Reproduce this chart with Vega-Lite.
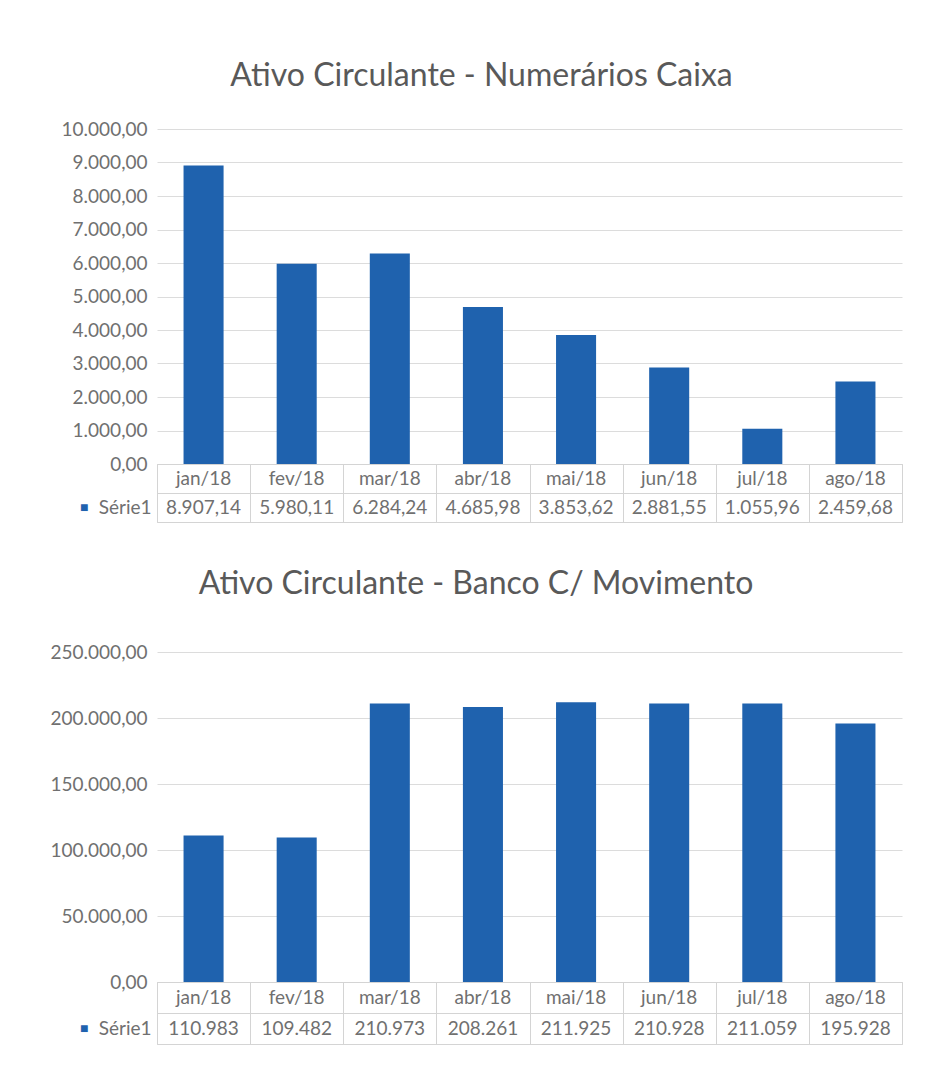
{
  "$schema": "https://vega.github.io/schema/vega-lite/v6.json",
  "background": "white",
  "padding": {"left": 50, "top": 60, "right": 30, "bottom": 5},
  "config": {
    "locale": {"number": {"decimal": ",", "thousands": ".", "grouping": [3], "currency": ["R$ ", ""]}},
    "font": "Lato",
    "axis": {"labelFont": "Lato", "labelFontSize": 19, "labelColor": "#707070"},
    "title": {"font": "Lato", "fontSize": 32, "fontWeight": "normal", "color": "#595959", "anchor": "middle", "frame": "bounds"}
  },
  "datasets": {
    "caixa": [
      {"mes": "jan/18", "valor": 8907.14},
      {"mes": "fev/18", "valor": 5980.11},
      {"mes": "mar/18", "valor": 6284.24},
      {"mes": "abr/18", "valor": 4685.98},
      {"mes": "mai/18", "valor": 3853.62},
      {"mes": "jun/18", "valor": 2881.55},
      {"mes": "jul/18", "valor": 1055.96},
      {"mes": "ago/18", "valor": 2459.68}
    ],
    "banco": [
      {"mes": "jan/18", "valor": 110983},
      {"mes": "fev/18", "valor": 109482},
      {"mes": "mar/18", "valor": 210973},
      {"mes": "abr/18", "valor": 208261},
      {"mes": "mai/18", "valor": 211925},
      {"mes": "jun/18", "valor": 210928},
      {"mes": "jul/18", "valor": 211059},
      {"mes": "ago/18", "valor": 195928}
    ]
  },
  "spacing": 45,
  "vconcat": [
    {
      "spacing": 0,
      "bounds": "flush",
      "vconcat": [
        {
          "title": {"text": "Ativo Circulante - Numerários Caixa", "offset": 27},
          "data": {"name": "caixa"},
          "width": 745,
          "height": 335,
          "view": {"stroke": null},
          "mark": {"type": "bar", "color": "#1f62ae"},
          "encoding": {
            "x": {"field": "mes", "type": "ordinal", "sort": null, "scale": {"paddingInner": 0.57, "paddingOuter": 0.285}, "axis": null},
            "y": {"field": "valor", "type": "quantitative", "scale": {"domain": [0, 10000]},
              "axis": {"title": null, "values": [0,1000,2000,3000,4000,5000,6000,7000,8000,9000,10000], "format": ",.2f", "domain": false, "ticks": false, "labelPadding": 10, "gridColor": "#dcdcdc"}}
          }
        },
        {
          "data": {"name": "caixa"},
          "width": 745,
          "height": 58,
          "view": {"stroke": "#d4d4d4"},
          "encoding": {
            "x": {"field": "mes", "type": "ordinal", "sort": null, "scale": {"paddingInner": 0, "paddingOuter": 0},
              "axis": {"title": null, "labels": false, "ticks": false, "domain": false, "grid": true, "tickBand": "extent", "gridColor": "#d4d4d4"}}
          },
          "resolve": {"axis": {"y": "independent"}},
          "layer": [
            {
              "mark": {"type": "text", "fontSize": 19, "color": "#707070", "font": "Lato"},
              "encoding": {
                "y": {"datum": "mes", "type": "nominal", "scale": {"type": "band", "domain": ["mes", "val"], "paddingInner": 0, "paddingOuter": 0},
                  "axis": {"title": null, "orient": "left", "labelExpr": "datum.value == 'val' ? 'Série1' : ''", "ticks": false, "domain": false, "grid": true, "tickBand": "extent", "gridColor": "#d4d4d4", "labelPadding": 6}},
                "text": {"field": "mes"}
              }
            },
            {
              "mark": {"type": "text", "fontSize": 19, "color": "#707070", "font": "Lato"},
              "encoding": {
                "y": {"datum": "val", "type": "nominal",
                  "axis": {"title": null, "orient": "left", "offset": 66, "labelExpr": "datum.value == 'val' ? '■' : ''", "labelColor": "#1f62ae", "labelFontSize": 14, "ticks": false, "domain": false, "grid": false, "labelPadding": 3}},
                "text": {"field": "valor", "format": ",.2f"}
              }
            }
          ]
        }
      ]
    },
    {
      "spacing": 0,
      "bounds": "flush",
      "vconcat": [
        {
          "title": {"text": "Ativo Circulante - Banco C/ Movimento", "offset": 42},
          "data": {"name": "banco"},
          "width": 745,
          "height": 330,
          "view": {"stroke": null},
          "mark": {"type": "bar", "color": "#1f62ae"},
          "encoding": {
            "x": {"field": "mes", "type": "ordinal", "sort": null, "scale": {"paddingInner": 0.57, "paddingOuter": 0.285}, "axis": null},
            "y": {"field": "valor", "type": "quantitative", "scale": {"domain": [0, 250000]},
              "axis": {"title": null, "values": [0,50000,100000,150000,200000,250000], "format": ",.2f", "domain": false, "ticks": false, "labelPadding": 10, "gridColor": "#dcdcdc"}}
          }
        },
        {
          "data": {"name": "banco"},
          "width": 745,
          "height": 62,
          "view": {"stroke": "#d4d4d4"},
          "encoding": {
            "x": {"field": "mes", "type": "ordinal", "sort": null, "scale": {"paddingInner": 0, "paddingOuter": 0},
              "axis": {"title": null, "labels": false, "ticks": false, "domain": false, "grid": true, "tickBand": "extent", "gridColor": "#d4d4d4"}}
          },
          "resolve": {"axis": {"y": "independent"}},
          "layer": [
            {
              "mark": {"type": "text", "fontSize": 19, "color": "#707070", "font": "Lato"},
              "encoding": {
                "y": {"datum": "mes", "type": "nominal", "scale": {"type": "band", "domain": ["mes", "val"], "paddingInner": 0, "paddingOuter": 0},
                  "axis": {"title": null, "orient": "left", "labelExpr": "datum.value == 'val' ? 'Série1' : ''", "ticks": false, "domain": false, "grid": true, "tickBand": "extent", "gridColor": "#d4d4d4", "labelPadding": 6}},
                "text": {"field": "mes"}
              }
            },
            {
              "mark": {"type": "text", "fontSize": 19, "color": "#707070", "font": "Lato"},
              "encoding": {
                "y": {"datum": "val", "type": "nominal",
                  "axis": {"title": null, "orient": "left", "offset": 66, "labelExpr": "datum.value == 'val' ? '■' : ''", "labelColor": "#1f62ae", "labelFontSize": 14, "ticks": false, "domain": false, "grid": false, "labelPadding": 3}},
                "text": {"field": "valor", "format": ",.0f"}
              }
            }
          ]
        }
      ]
    }
  ]
}
